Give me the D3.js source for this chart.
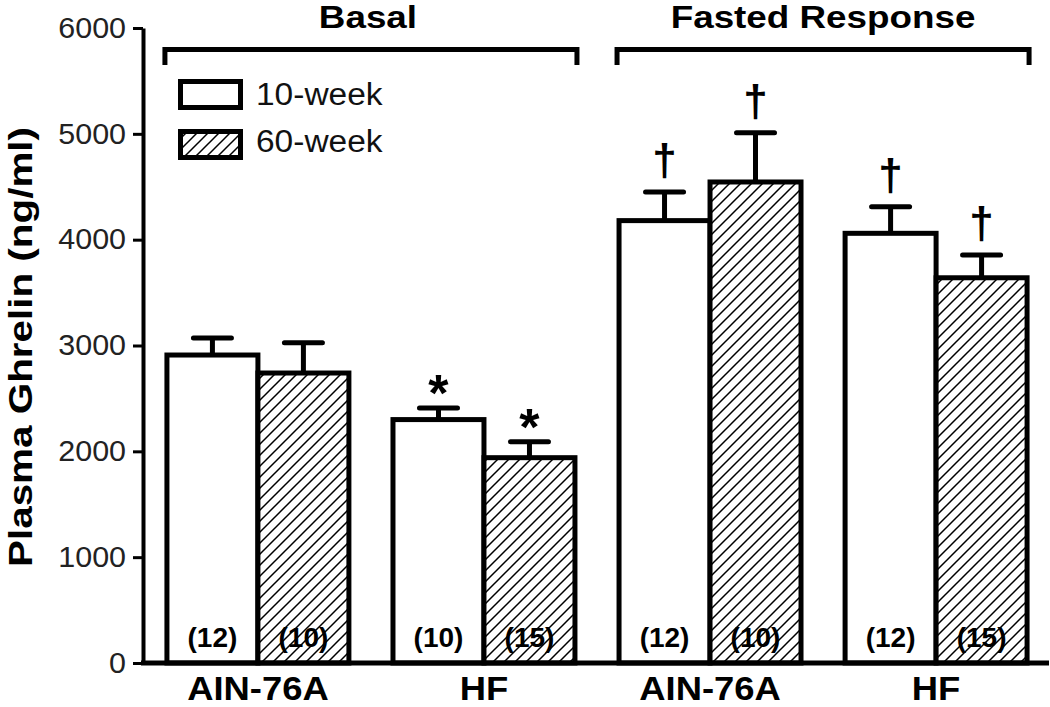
<!DOCTYPE html>
<html><head><meta charset="utf-8">
<script src="https://d3js.org/d3.v7.min.js"></script>
<style>body{margin:0;background:#fff}svg{display:block}</style>
</head><body>
<script>
const groups = ["Basal", "Fasted Response"];
const categories = ["Basal|AIN-76A", "Basal|HF", "Fasted|AIN-76A", "Fasted|HF"];
const categoryLabels = ["AIN-76A", "HF", "AIN-76A", "HF"];
const categoryGroup = [0, 0, 1, 1];
const series = ["10-week", "60-week"];
const means10 = [2910, 2300, 4180, 4060];
const means60 = [2740, 1940, 4545, 3640];
const err10 = [160, 110, 270, 250];
const err60 = [285, 150, 465, 215];
const n10 = ["(12)", "(10)", "(12)", "(12)"];
const n60 = ["(10)", "(15)", "(10)", "(15)"];
const sig10 = ["", "*", "\u2020", "\u2020"];
const sig60 = ["", "*", "\u2020", "\u2020"];
const yTicks = [0, 1000, 2000, 3000, 4000, 5000, 6000];

const W = 1050, H = 707;
const svg = d3.select("body").append("svg").attr("width", W).attr("height", H);
const font = "'Liberation Sans', Arial, sans-serif";

function fit(sel, w) {
  sel.attr("textLength", w).attr("lengthAdjust", "spacingAndGlyphs");
}

const defs = svg.append("defs");
const pat = defs.append("pattern").attr("id", "hatch").attr("patternUnits", "userSpaceOnUse")
  .attr("width", 11).attr("height", 11);
pat.append("rect").attr("width", 11).attr("height", 11).attr("fill", "#fff");
pat.append("path").attr("d", "M-2,2 L2,-2 M0,11 L11,0 M9,13 L13,9").attr("stroke", "#000").attr("stroke-width", 1.5);

const y = d3.scaleLinear().domain([0, 6000]).range([663, 28]);
const x = d3.scaleBand().domain(categories).range([145, 1049]).paddingInner(0.195).paddingOuter(0.097);
const xs = d3.scaleBand().domain(series).range([0, x.bandwidth()]);

const data = [];
categories.forEach((c, i) => {
  data.push({c, s: series[0], v: means10[i], e: err10[i], n: n10[i], sig: sig10[i]});
  data.push({c, s: series[1], v: means60[i], e: err60[i], n: n60[i], sig: sig60[i]});
});

// bars
svg.append("g").selectAll("rect").data(data).join("rect")
  .attr("x", d => x(d.c) + xs(d.s))
  .attr("y", d => y(d.v))
  .attr("width", xs.bandwidth())
  .attr("height", d => y(0) - y(d.v))
  .attr("fill", d => d.s === series[0] ? "#fff" : "url(#hatch)")
  .attr("stroke", "#000").attr("stroke-width", 5).attr("stroke-linejoin", "miter");

// error bars
const eb = svg.append("g").attr("stroke", "#000").attr("stroke-width", 5);
data.forEach(d => {
  const cx = x(d.c) + xs(d.s) + xs.bandwidth() / 2;
  eb.append("line").attr("x1", cx).attr("x2", cx).attr("y1", y(d.v)).attr("y2", y(d.v + d.e));
  eb.append("line").attr("x1", cx - 19).attr("x2", cx + 19).attr("y1", y(d.v + d.e)).attr("y2", y(d.v + d.e)).attr("stroke-linecap", "round");
});

// significance markers
svg.append("g").selectAll("text").data(data.filter(d => d.sig)).join("text")
  .attr("x", d => x(d.c) + xs(d.s) + xs.bandwidth() / 2)
  .attr("y", d => y(d.v + d.e) + (d.sig === "*" ? 3 : -17))
  .attr("text-anchor", "middle")
  .attr("font-family", font).attr("font-weight", "bold")
  .attr("font-size", d => d.sig === "*" ? 52 : 44)
  .text(d => d.sig);

// n labels
svg.append("g").selectAll("text").data(data).join("text")
  .attr("x", d => x(d.c) + xs(d.s) + xs.bandwidth() / 2)
  .attr("y", 647)
  .attr("text-anchor", "middle")
  .attr("font-family", font).attr("font-weight", "bold").attr("font-size", 28)
  .text(d => d.n);

// y axis
const yAxis = svg.append("g").attr("transform", "translate(143,0)")
  .call(d3.axisLeft(y).tickValues(yTicks).tickFormat(d3.format("d")).tickSize(10).tickPadding(7).tickSizeOuter(0));
yAxis.select(".domain").attr("stroke-width", 4);
yAxis.selectAll(".tick line").attr("stroke-width", 3);
yAxis.selectAll(".tick text").attr("font-family", font).attr("font-size", 29).attr("fill", "#222")
  .each(function() { const t = d3.select(this); fit(t, this.getComputedTextLength() * 1.05); });

// x axis line
svg.append("line").attr("x1", 141).attr("x2", 1049).attr("y1", y(0)).attr("y2", y(0))
  .attr("stroke", "#000").attr("stroke-width", 5);

// category labels
svg.append("g").selectAll("text").data(categories).join("text")
  .attr("x", d => x(d) + x.bandwidth() / 2)
  .attr("y", 700)
  .attr("text-anchor", "middle")
  .attr("font-family", font).attr("font-weight", "bold").attr("font-size", 34)
  .text((d, i) => categoryLabels[i])
  .each(function() { fit(d3.select(this), this.getComputedTextLength() * 1.07); });

// group brackets
groups.forEach((g, gi) => {
  const cats = categories.filter((c, i) => categoryGroup[i] === gi);
  const x0 = x(cats[0]) - 2, x1 = x(cats[cats.length - 1]) + x.bandwidth() + 2;
  svg.append("path").attr("d", `M${x0},65 V49.5 H${x1} V65`)
    .attr("fill", "none").attr("stroke", "#000").attr("stroke-width", 5);
  const t = svg.append("text").attr("x", (x0 + x1) / 2 + (gi === 0 ? -3 : 0)).attr("y", 28)
    .attr("text-anchor", "middle").attr("font-family", font).attr("font-weight", "bold").attr("font-size", 32)
    .text(g);
  fit(t, t.node().getComputedTextLength() * 1.15);
});

// legend
const lg = svg.append("g");
series.forEach((s, i) => {
  lg.append("rect").attr("x", 180.5).attr("y", 81.5 + i * 50).attr("width", 60).attr("height", 26)
    .attr("fill", i === 0 ? "#fff" : "url(#hatch)").attr("stroke", "#000").attr("stroke-width", 5);
  const t = lg.append("text").attr("x", 256).attr("y", 105 + i * 47)
    .attr("font-family", font).attr("font-size", 31).attr("fill", "#111").text(s);
  fit(t, t.node().getComputedTextLength() * 1.08);
});

// y label
const yl = svg.append("text").attr("transform", "translate(32,347) rotate(-90)")
  .attr("text-anchor", "middle").attr("font-family", font).attr("font-weight", "bold").attr("font-size", 33)
  .text("Plasma Ghrelin (ng/ml)");
fit(yl, 440);
</script>
</body></html>
